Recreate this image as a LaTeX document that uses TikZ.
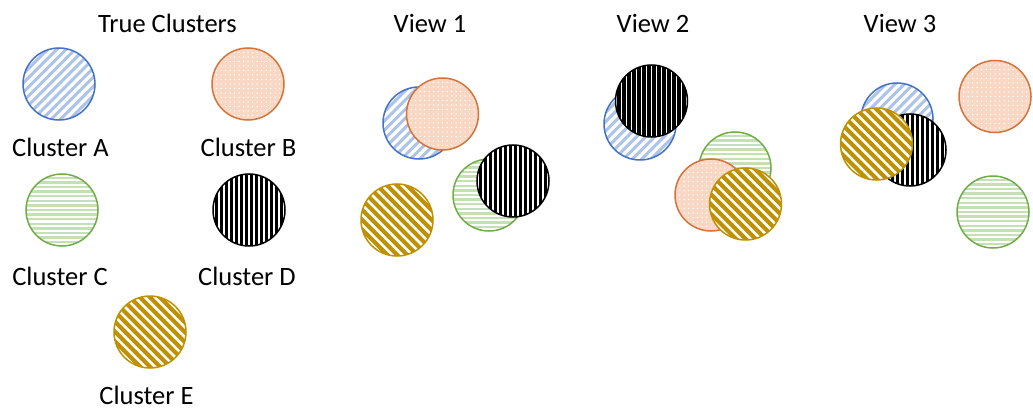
\documentclass[tikz,border=0pt]{standalone}
\usepackage{fontspec}
\setmainfont{Carlito}
\definecolor{aBlue}{HTML}{4472C4}
\definecolor{aLight}{HTML}{ADC3E8}
\definecolor{bOrange}{HTML}{D4733A}
\definecolor{bLight}{HTML}{F8D8C4}
\definecolor{cGreen}{HTML}{70AD47}
\definecolor{cLight}{HTML}{C5E0B4}
\definecolor{eGold}{HTML}{BF9000}
\tikzset{
  cl/.style={circle, minimum size=72pt, inner sep=0pt, line width=1.5pt},
  clA/.style={cl, fill=white, draw=aBlue, path picture={
    \foreach \k in {-9,...,9} \draw[aLight, line width=3pt]
      ([shift={(\k*9.2,0)}]path picture bounding box.center) ++(-40,40) -- ++(80,-80);}},
  clB/.style={cl, fill=bLight, draw=bOrange, path picture={
    \foreach \i in {-8,...,8} \foreach \j in {-8,...,8}
      \fill[white] ([shift={(\i*4.5,\j*4.5)}]path picture bounding box.center) circle[radius=0.75pt];}},
  clC/.style={cl, fill=white, draw=cGreen, path picture={
    \foreach \k in {-8,...,8} \draw[cLight, line width=2.3pt]
      ([shift={(0,\k*4.6)}]path picture bounding box.center) ++(-40,0) -- ++(80,0);}},
  clD/.style={cl, fill=black, draw=black, path picture={
    \foreach \k in {-8,...,8} \draw[white, line width=1.4pt]
      ([shift={(\k*5,0)}]path picture bounding box.center) ++(0,-40) -- ++(0,80);}},
  clE/.style={cl, fill=eGold, draw=eGold, path picture={
    \foreach \k in {-8,...,8} \draw[white, line width=2.6pt]
      ([shift={(\k*9.9,0)}]path picture bounding box.center) ++(-40,-40) -- ++(80,80);}},
  lbl/.style={font=\fontsize{26.5}{30}\selectfont, anchor=base, inner sep=0pt}
}
\begin{document}
\begin{tikzpicture}[x=1pt,y=-1pt]
\useasboundingbox (0,0) rectangle (1033,409);
% True clusters
\node[lbl] (t0) at (167.5,33) {True Clusters};
\node[clA] (a0) at (59,84) {};
\node[clB] (b0) at (248,84) {};
\node[clC] (c0) at (62,210) {};
\node[clD] (d0) at (249,210) {};
\node[clE] (e0) at (150,332) {};
\node[lbl] (la) at (60.5,157) {Cluster A};
\node[lbl] (lb) at (248.5,157) {Cluster B};
\node[lbl] (lc) at (60,285) {Cluster C};
\node[lbl] (ld) at (247,285) {Cluster D};
\node[lbl] (le) at (146.5,404) {Cluster E};
% View 1
\node[lbl] (t1) at (430,33) {View 1};
\node[clA] (a1) at (419,123) {};
\node[clB] (b1) at (442.5,114) {};
\node[clC] (c1) at (489,195) {};
\node[clD] (d1) at (513,181) {};
\node[clE] (e1) at (397,220) {};
% View 2
\node[lbl] (t2) at (653,33) {View 2};
\node[clA] (a2) at (640,124) {};
\node[clD] (d2) at (651.5,101) {};
\node[clC] (c2) at (735,168) {};
\node[clB] (b2) at (711,195) {};
\node[clE] (e2) at (745.5,204) {};
% View 3
\node[lbl] (t3) at (900,33) {View 3};
\node[clA] (a3) at (897,119) {};
\node[clD] (d3) at (910,150) {};
\node[clE] (e3) at (876.5,144) {};
\node[clB] (b3) at (995,96.5) {};
\node[clC] (c3) at (993,212) {};
\end{tikzpicture}
\end{document}
